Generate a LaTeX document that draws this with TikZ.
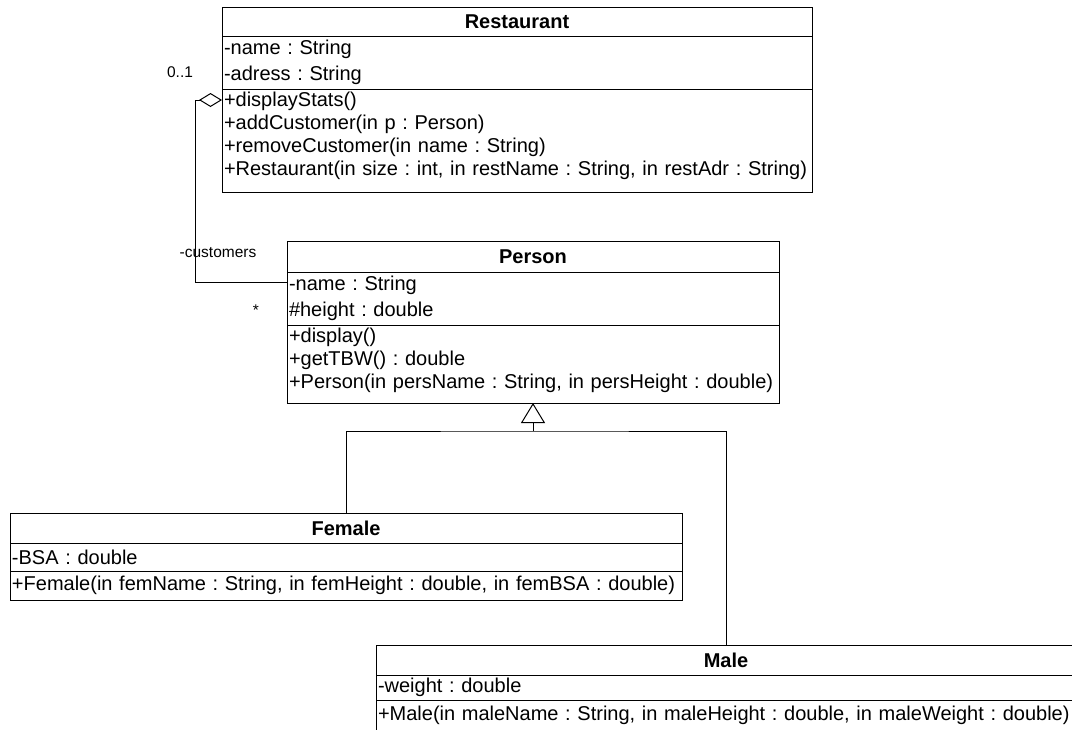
\documentclass[tikz,border=0pt]{standalone}
\usepackage{fontspec}
\setmainfont{Liberation Sans}[WordSpace=1.45]
\frenchspacing
\usetikzlibrary{shapes,arrows.meta,positioning,calc}

\begin{document}
\begin{tikzpicture}[
    x=1pt, y=-1pt,
    line width=1pt,
    classhead/.style={rectangle, draw, outer sep=0pt, inner xsep=2pt, inner ysep=0pt, align=center, anchor=north west, font=\fontsize{20}{23}\selectfont\bfseries},
    classattr/.style={rectangle, draw, outer sep=0pt, inner xsep=2pt, inner ysep=0pt, align=left, font=\fontsize{20}{26}\selectfont},
    classops/.style={rectangle, draw, outer sep=0pt, inner xsep=2pt, inner ysep=0pt, align=left, text height=17pt, font=\fontsize{20}{23}\selectfont},
    mult/.style={inner sep=0pt, font=\fontsize{15.5}{18}\selectfont},
    aggr/.style={{Diamond[open,length=23pt,width=14pt]}-},
    inherit/.style={-{Triangle[open,length=20pt,width=24pt]}}
]
    \useasboundingbox (0,0) rectangle (1072,729);

    % 类 Restaurant
    \node[classhead, text width=586pt, minimum height=29pt] (rest) at (222,7) {Restaurant};
    \node[classattr, text width=586pt, minimum height=53pt, below=0pt of rest] (rest-attr) {-name : String\\-adress : String};
    \node[classops, text width=586pt, text depth=86pt, below=0pt of rest-attr] (rest-ops) {+displayStats()\\+addCustomer(in p : Person)\\+removeCustomer(in name : String)\\+Restaurant(in size : int, in restName : String, in restAdr : String)};

    % 类 Person
    \node[classhead, text width=488pt, minimum height=31pt] (pers) at (287,241) {Person};
    \node[classattr, text width=488pt, minimum height=53pt, below=0pt of pers] (pers-attr) {-name : String\\\#height : double};
    \node[classops, text width=488pt, text depth=61pt, below=0pt of pers-attr] (pers-ops) {+display()\\+getTBW() : double\\+Person(in persName : String, in persHeight : double)};

    % 类 Female
    \node[classhead, text width=668pt, minimum height=30pt] (fem) at (10,513) {Female};
    \node[classattr, text width=668pt, minimum height=28pt, below=0pt of fem] (fem-attr) {-BSA : double};
    \node[classattr, text width=668pt, minimum height=29pt, below=0pt of fem-attr] (fem-ops) {+Female(in femName : String, in femHeight : double, in femBSA : double)};

    % 类 Male
    \node[classhead, text width=696pt, minimum height=30pt] (male) at (376,645) {Male};
    \node[classattr, text width=696pt, minimum height=25pt, below=0pt of male] (male-attr) {-weight : double};
    \node[classattr, text width=696pt, minimum height=30pt, below=0pt of male-attr] (male-ops) {+Male(in maleName : String, in maleHeight : double, in maleWeight : double)};

    % 聚合 Restaurant -- Person
    \coordinate (agg-r) at ($(rest-ops.north west)+(0,11)$);
    \coordinate (agg-p) at ($(pers-attr.north west)+(0,10)$);
    \draw[aggr] (agg-r) -- ++(-27,0) |- (agg-p);
    \node[mult] (mult-r) at (180,72) {0..1};
    \node[mult] (role-p) at (218,253) {-customers};
    \node[mult] (mult-p) at (256,310) {*};

    % 继承
    \coordinate (gen) at ($(pers-ops.south)+(0,28)$);
    \draw (fem.north) |- (gen) -| (male.north);
    \draw[inherit] (gen) -- (pers-ops.south);
\end{tikzpicture}
\end{document}
